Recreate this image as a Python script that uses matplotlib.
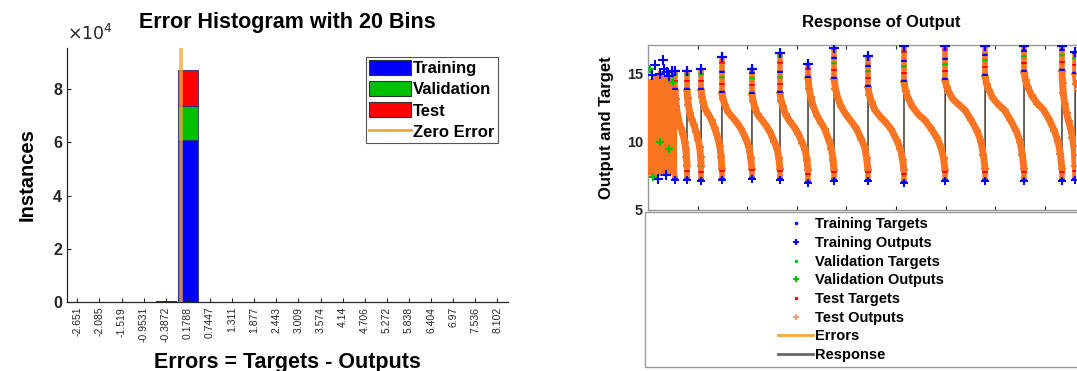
"""Error histogram + response plot (MATLAB nntool style), two panels."""
import matplotlib
matplotlib.use("Agg")
import matplotlib.pyplot as plt
from matplotlib.lines import Line2D
from matplotlib.patches import Patch

plt.rcParams["font.family"] = ["Liberation Sans", "DejaVu Sans"]

# ---- error histogram (20 bins) ----
bin_labels = ["-2.651", "-2.085", "-1.519", "-0.9531", "-0.3872", "0.1788", "0.7447",
              "1.311", "1.877", "2.443", "3.009", "3.574", "4.14", "4.706", "5.272",
              "5.838", "6.404", "6.97", "7.536", "8.102"]
train_counts = [0, 0, 0, 0, 250, 60800, 0, 0, 0, 0, 0, 0, 0, 0, 0, 0, 0, 0, 0, 0]
val_counts = [0, 0, 0, 0, 40, 12700, 0, 0, 0, 0, 0, 0, 0, 0, 0, 0, 0, 0, 0, 0]
test_counts = [0, 0, 0, 0, 40, 13500, 0, 0, 0, 0, 0, 0, 0, 0, 0, 0, 0, 0, 0, 0]
hist_ticks = [0, 20000, 40000, 60000, 80000]
hist_ticklabels = ["0", "2", "4", "6", "8"]

# ---- response of output ----
# noisy start region: sample index and the spread of outputs there
noise_x = [15, 45, 75, 105, 135, 165, 195, 225, 255, 285, 315, 345, 375, 405, 435, 465, 495, 525]
noise_low = [7.6, 7.8, 8.2, 7.5, 7.4, 7.9, 9.0, 7.5, 7.6, 7.5, 8.0, 7.8, 7.8, 7.6, 8.4, 7.9, 7.6, 7.6]
noise_high = [14.6, 14.2, 13.9, 14.5, 15.0, 14.4, 14.2, 14.8, 15.2, 14.6, 13.6, 14.3, 14.8, 14.9,
              14.1, 14.0, 14.9, 14.4]
noise_blue_x = [90, 150, 200, 240, 300, 330, 360, 390, 420, 480]
noise_blue_y = [14.9, 15.6, 7.3, 15.0, 16.0, 15.3, 7.6, 15.1, 14.8, 15.2]
noise_green_x = [30, 100, 250, 420, 510]
noise_green_y = [15.3, 7.4, 10.0, 9.5, 14.4]

# jump positions (start of each sawtooth cycle), last entry = end of final cycle
jumps = [545, 785, 1070, 1490, 2095, 2660, 3225, 3750, 4435, 5160, 5990, 6795, 7580,
         8345, 8610, 9300]
# fraction of the way through each cycle where the values below were read
cycle_t = [0, 0.04, 0.1, 0.2, 0.35, 0.5, 0.65, 0.8, 0.9, 0.96, 1.0]
cycle_y = [
    [13.8, 13.1, 12.6, 12.0, 11.4, 11.0, 10.6, 10.0, 9.5, 8.9, 8.2],
    [13.8, 13.2, 12.7, 12.1, 11.6, 11.2, 10.7, 10.1, 9.6, 8.9, 8.2],
    [13.8, 13.3, 12.9, 12.4, 12.0, 11.6, 11.0, 10.3, 9.7, 8.9, 8.0],
    [13.6, 13.1, 12.7, 12.2, 11.8, 11.4, 10.9, 10.2, 9.6, 8.8, 8.0],
    [13.5, 13.0, 12.5, 12.0, 11.6, 11.2, 10.7, 10.0, 9.5, 8.8, 8.0],
    [13.6, 13.0, 12.6, 12.0, 11.5, 11.1, 10.6, 9.9, 9.4, 8.7, 7.9],
    [14.7, 13.9, 13.3, 12.6, 11.9, 11.4, 10.9, 10.1, 9.5, 8.7, 7.9],
    [14.6, 13.9, 13.3, 12.6, 12.0, 11.5, 11.0, 10.2, 9.6, 8.8, 7.9],
    [14.0, 13.4, 12.9, 12.3, 11.8, 11.4, 10.9, 10.1, 9.5, 8.7, 7.9],
    [14.4, 13.7, 13.2, 12.6, 12.0, 11.6, 11.0, 10.3, 9.6, 8.8, 7.9],
    [14.5, 14.0, 13.6, 13.1, 12.7, 12.3, 11.6, 10.8, 10.0, 9.0, 8.0],
    [14.8, 14.2, 13.8, 13.2, 12.7, 12.3, 11.6, 10.8, 10.0, 9.0, 8.0],
    [15.1, 14.5, 14.0, 13.4, 12.8, 12.4, 11.7, 10.8, 10.0, 9.1, 8.0],
    [15.2, 14.3, 13.6, 12.8, 12.1, 11.5, 11.0, 10.3, 9.7, 9.0, 8.2],
    [15.0, 14.2, 13.7, 13.0, 12.3, 11.8, 11.2, 10.4, 9.7, 8.9, 8.0],
]
# marker spread at each jump
col_high = [15.2, 15.2, 15.3, 16.2, 15.3, 16.5, 15.7, 16.9, 16.3, 17.0, 17.0, 17.0, 17.0, 17.0, 16.6]
col_low = [7.2, 7.2, 7.1, 7.2, 7.3, 7.2, 7.0, 7.1, 7.1, 7.0, 7.1, 7.1, 7.1, 7.1, 7.2]

BLUE = "#0000FF"
GREEN = "#00C000"
RED = "#FF0000"
ORANGE = "#F97522"
ZERO = "#F2A73B"
AXC = "#262626"
BOXC = "#999999"


def main():
    fig = plt.figure(figsize=(10.77, 3.71), dpi=100)

    # ================= left: histogram =================
    ax = fig.add_axes([0.062, 0.186, 0.41, 0.685])
    centers = [float(s) for s in bin_labels]
    w = 0.9 * (centers[1] - centers[0])
    bottom_v = train_counts
    bottom_t = [a + b for a, b in zip(train_counts, val_counts)]
    ax.bar(centers, train_counts, width=w, color=BLUE, edgecolor="#2b2b80", linewidth=0.6)
    ax.bar(centers, val_counts, width=w, bottom=bottom_v, color=GREEN,
           edgecolor="#2b2b80", linewidth=0.6)
    ax.bar(centers, test_counts, width=w, bottom=bottom_t, color=RED,
           edgecolor="#2b2b80", linewidth=0.6)
    ax.axvline(0, color=ZERO, lw=2.6, alpha=0.8, zorder=5)

    ax.set_xlim(-2.92, 8.38)
    ax.set_ylim(0, 95500)
    ax.set_xticks(centers)
    ax.set_xticklabels(bin_labels, rotation=90, fontsize=7.5,
                       family=["Liberation Sans Narrow", "Liberation Sans"], color="#333333")
    ax.set_yticks(hist_ticks)
    ax.set_yticklabels(hist_ticklabels, fontsize=11.5, fontweight="bold")
    ax.tick_params(direction="in", length=3, width=0.8, colors=AXC)
    for s in ("top", "right"):
        ax.spines[s].set_visible(False)
    for s in ("left", "bottom"):
        ax.spines[s].set_color(AXC)
        ax.spines[s].set_linewidth(0.9)
    ax.set_title("Error Histogram with 20 Bins", fontsize=15.5, fontweight="bold", pad=14)
    ax.set_ylabel("Instances", fontsize=14.5, fontweight="bold", labelpad=12)
    ax.set_xlabel("Errors = Targets - Outputs", fontsize=15.5, fontweight="bold", labelpad=7)
    ax.text(0.0, 1.02, r"$\times10^{4}$", transform=ax.transAxes, fontsize=12.5,
            ha="left", va="bottom", color=AXC)

    handles = [Patch(facecolor=BLUE, edgecolor="#333333", linewidth=0.8, label="Training"),
               Patch(facecolor=GREEN, edgecolor="#333333", linewidth=0.8, label="Validation"),
               Patch(facecolor=RED, edgecolor="#333333", linewidth=0.8, label="Test"),
               Line2D([], [], color=ZERO, lw=2, label="Zero Error")]
    leg = ax.legend(handles=handles, loc="upper right", bbox_to_anchor=(0.976, 0.965),
                    prop={"weight": "bold", "size": 12}, fancybox=False,
                    framealpha=1, edgecolor="#555555", borderpad=0.2, labelspacing=0.3,
                    handlelength=2.5, handleheight=1.0, handletextpad=0.15, borderaxespad=0)
    leg.get_frame().set_linewidth(0.8)

    # ================= right: response (cut off at the right edge) =================
    ax2 = fig.add_axes([0.6017, 0.434, 0.3978, 0.445])
    ax2.vlines(noise_x, noise_low, noise_high, colors=ORANGE, lw=4.5, zorder=3, rasterized=True)
    resp_x, resp_y = [], []
    for k, ys in enumerate(cycle_y):
        x0, x1 = jumps[k], jumps[k + 1]
        xs = [x0 + t * (x1 - x0) for t in cycle_t]
        ax2.plot(xs, ys, color=ORANGE, lw=5, solid_capstyle="round",
                 solid_joinstyle="round", zorder=3, rasterized=True)
        ax2.plot(xs, ys, ls="none", marker="+", color=ORANGE, ms=6, mew=1.5, zorder=3,
                 rasterized=True)
        resp_x += xs
        resp_y += ys
    ax2.plot(resp_x, resp_y, color="#2a2418", lw=1.0, zorder=2, rasterized=True)

    col_x = jumps[:-1]
    tops = [ys[0] for ys in cycle_y]
    bots = [noise_low[-1]] + [ys[-1] for ys in cycle_y[:-1]]
    for lo, hi in ((tops, col_high), (col_low, bots)):
        ax2.vlines(col_x, lo, hi, colors=ORANGE, lw=4, zorder=4, rasterized=True)
        ax2.vlines(col_x, lo, hi, colors=BLUE, lw=4, linestyles=[(0, (0.4, 3.2))], zorder=5,
                   rasterized=True)
        ax2.vlines(col_x, lo, hi, colors=GREEN, lw=4, linestyles=[(1.2, (0.35, 3.5))], zorder=5,
                   rasterized=True)
        ax2.vlines(col_x, lo, hi, colors=RED, lw=4, linestyles=[(2.4, (0.35, 3.5))], zorder=5,
                   rasterized=True)
    ax2.plot(col_x, col_high, ls="none", marker="+", color=BLUE, ms=7, mew=1.6, zorder=6,
             rasterized=True)
    ax2.plot(col_x, col_low, ls="none", marker="+", color=BLUE, ms=6, mew=1.4, zorder=6,
             rasterized=True)
    ax2.plot(noise_blue_x, noise_blue_y, ls="none", marker="+", color=BLUE, ms=7, mew=1.5,
             zorder=6, rasterized=True)
    ax2.plot(noise_green_x, noise_green_y, ls="none", marker="+", color=GREEN, ms=6, mew=1.5,
             zorder=6, rasterized=True)

    ax2.set_xlim(0, 8637)
    ax2.set_ylim(5, 17.1)
    ax2.set_xticks(range(1000, 9000, 1000))
    ax2.set_xticklabels([])
    ax2.set_yticks([5, 10, 15])
    ax2.set_yticklabels(["5", "10", "15"], fontsize=10.5, fontweight="bold")
    ax2.tick_params(direction="in", length=3, width=0.8, colors=AXC, top=True, right=False)
    ax2.spines["right"].set_visible(False)
    for s in ("left", "top", "bottom"):
        ax2.spines[s].set_color(BOXC)
        ax2.spines[s].set_linewidth(1.0)
    ax2.set_title("Response of Output", fontsize=12, fontweight="bold", pad=13, x=0.545)
    ax2.set_ylabel("Output and Target", fontsize=12, fontweight="bold", labelpad=9)

    # legend panel below the response axes, open on the right like the cropped original
    x0, x1, y0, y1 = 0.599, 1.0, 0.011, 0.429
    fig.add_artist(Line2D([x1, x0, x0, x1], [y1, y1, y0, y0], transform=fig.transFigure,
                          color=BOXC, lw=1.0))
    lh = [Line2D([], [], ls="none", marker=".", ms=3, color=BLUE, label="Training Targets"),
          Line2D([], [], ls="none", marker="+", ms=5, mew=1.5, color=BLUE, label="Training Outputs"),
          Line2D([], [], ls="none", marker=".", ms=3, color=GREEN, label="Validation Targets"),
          Line2D([], [], ls="none", marker="+", ms=5, mew=1.5, color=GREEN, label="Validation Outputs"),
          Line2D([], [], ls="none", marker=".", ms=3, color=RED, label="Test Targets"),
          Line2D([], [], ls="none", marker="+", ms=5, mew=1.5, color="#F79A66", label="Test Outputs"),
          Line2D([], [], color=ZERO, lw=2, label="Errors"),
          Line2D([], [], color="#666666", lw=2, label="Response")]
    fig.legend(handles=lh, loc="upper left", bbox_to_anchor=(0.7224, 0.414), frameon=False,
               prop={"weight": "bold", "size": 10.5}, borderpad=0, borderaxespad=0,
               labelspacing=0.32, handlelength=2.4, handletextpad=0.15)

    fig.savefig("out.png", dpi=100)
    plt.close(fig)


if __name__ == "__main__":
    main()
